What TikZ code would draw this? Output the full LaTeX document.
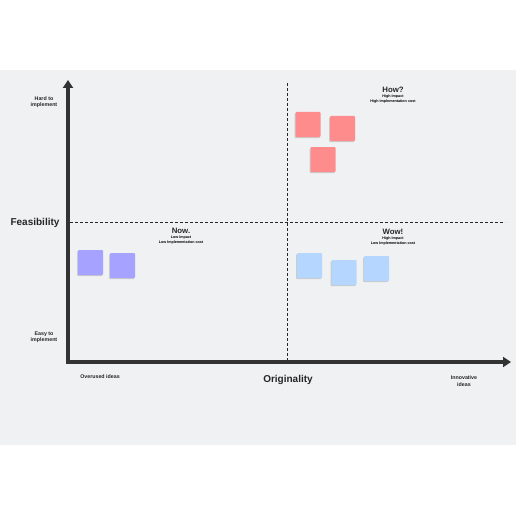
\documentclass[tikz,border=0pt]{standalone}
\usepackage{fontspec}
\setmainfont{Liberation Sans}
\usetikzlibrary{arrows.meta}
\definecolor{bgc}{HTML}{F0F1F3}
\definecolor{axisc}{HTML}{333333}
\definecolor{redn}{HTML}{FF8C8C}
\definecolor{purn}{HTML}{A5A3FF}
\definecolor{blun}{HTML}{B5D6FF}
\tikzset{
  note/.style={draw=none, fill=#1, minimum width=25pt, minimum height=25pt, inner sep=0pt, rounded corners=0.8pt,
    preaction={fill=black!30, opacity=0.6, transform canvas={shift={(-0.8pt,-1.2pt)}}}},
  axisline/.style={line width=3.6pt, draw=axisc, -{Triangle[width=10pt,length=8pt]}},
  dashline/.style={draw=black!85, line width=0.6pt, dash pattern=on 3pt off 2pt},
  tiny/.style={font=\bfseries\fontsize{3.7}{4.3}\selectfont, align=center, inner sep=0pt},
  small/.style={font=\bfseries\fontsize{5.3}{6.3}\selectfont, align=center, inner sep=0pt, text=black!85},
  qtitle/.style={font=\bfseries\fontsize{7.8}{9}\selectfont, inner sep=0pt, text=black!85},
  axtitle/.style={font=\bfseries\fontsize{10}{12}\selectfont, inner sep=0pt, text=black!85}
}
\begin{document}
\begin{tikzpicture}[x=1pt,y=-1pt]
\useasboundingbox (0,0) rectangle (516,516);
\fill[bgc] (0,70) rectangle (516,445);
% dashed lines
\coordinate (vt) at (287,83);
\coordinate (vb) at (287,360);
\coordinate (hl) at (70,222);
\coordinate (hr) at (505,222);
\draw[dashline] (vt) -- (vb);
\draw[dashline] (hl) -- (hr);
% axes
\coordinate (o) at (68,362);
\coordinate (ytop) at (68,80);
\coordinate (xend) at (511,362);
\draw[axisline] (o) -- (ytop);
\draw[axisline] ([xshift=-1.8pt]o) -- (xend);
% labels
\node[small] (hard) at (44,102) {Hard to\\implement};
\node[small] (easy) at (44,337) {Easy to\\implement};
\node[axtitle] (feas) at (35,223) {Feasibility};
\node[axtitle] (orig) at (288,380) {Originality};
\node[small] (over) at (100,377) {Overused ideas};
\node[small] (innov) at (464,381) {Innovative\\ideas};
% quadrant titles
\node[qtitle] (how) at (393,90) {How?};
\node[tiny] (howsub) at (393,99) {High Impact\\High Implementation cost};
\node[qtitle] (now) at (181,231) {Now.};
\node[tiny] (nowsub) at (181,240) {Low Impact\\Low Implementation cost};
\node[qtitle] (wow) at (393,232) {Wow!};
\node[tiny] (wowsub) at (393,241) {High Impact\\Low Implementation cost};
% notes
\node[note=redn] (r1) at (308,124.5) {};
\node[note=redn] (r2) at (342.5,128.5) {};
\node[note=redn] (r3) at (323,159.5) {};
\node[note=purn] (p1) at (90.5,262.5) {};
\node[note=purn] (p2) at (122.5,265.5) {};
\node[note=blun] (b1) at (309.5,265.5) {};
\node[note=blun] (b2) at (344,272.5) {};
\node[note=blun] (b3) at (376.5,268.5) {};
\end{tikzpicture}
\end{document}
